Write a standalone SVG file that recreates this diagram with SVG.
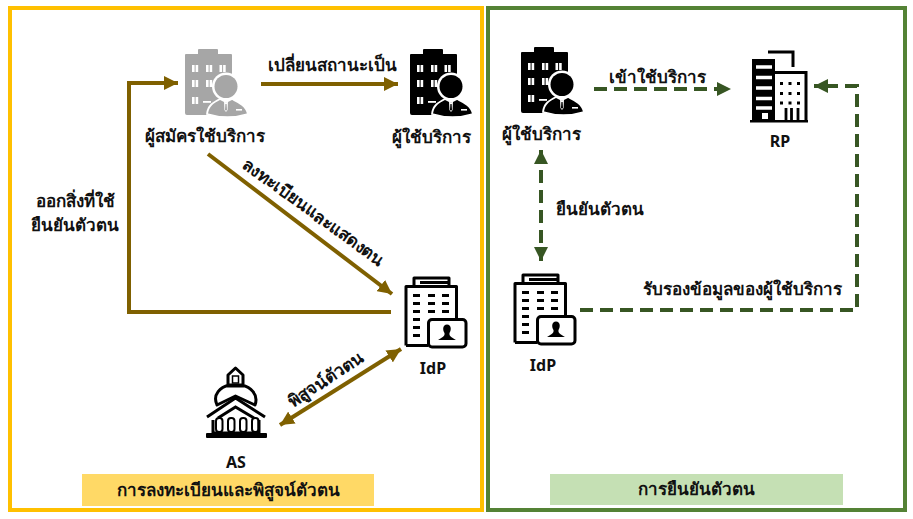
<svg xmlns="http://www.w3.org/2000/svg" width="913" height="519" viewBox="0 0 913 519">
<style>
text{font-family:"Noto Sans","Liberation Sans",sans-serif;font-size:17px;font-weight:700;fill:#111;text-anchor:middle}
text.l{font-size:16px}
.g{fill:none;stroke:#7F6000;stroke-width:4}
.d{fill:none;stroke:#375623;stroke-width:4;stroke-dasharray:13 7}
.ol{fill:none;stroke:#000;stroke-width:3;stroke-linejoin:round}
</style>
<defs>
<marker id="ag" markerUnits="userSpaceOnUse" markerWidth="14" markerHeight="14" refX="12" refY="6" orient="auto-start-reverse" viewBox="0 0 12 12"><path d="M0 0L12 6L0 12Z" fill="#7F6000"/></marker>
<marker id="ad" markerUnits="userSpaceOnUse" markerWidth="14" markerHeight="14" refX="12" refY="6" orient="auto-start-reverse" viewBox="0 0 12 12"><path d="M0 0L12 6L0 12Z" fill="#375623"/></marker>
<symbol id="person" width="65" height="68" viewBox="0 0 65 68" overflow="visible">
<path d="M13 5V1a1 1 0 0 1 1-1H32a1 1 0 0 1 1 1V5H46a1 1 0 0 1 1 1V30L27 62V66H2a2 2 0 0 1-2-2V6a1 1 0 0 1 1-1Z" fill="currentColor"/>
<g fill="#fff"><rect x="7" y="16" width="2.600" height="7"/><rect x="10.600" y="16" width="2.600" height="7"/><rect x="21" y="16" width="2.600" height="7"/><rect x="24.600" y="16" width="2.600" height="7"/><rect x="34.500" y="16" width="2.600" height="7"/><rect x="38.100" y="16" width="2.600" height="7"/><rect x="7" y="31" width="2.600" height="7"/><rect x="10.600" y="31" width="2.600" height="7"/><rect x="21" y="31" width="2.600" height="7"/><rect x="24.600" y="31" width="2.600" height="7"/><rect x="7" y="48" width="2.600" height="7"/><rect x="10.600" y="48" width="2.600" height="7"/><rect x="18" y="52" width="8" height="1.800"/></g>
<circle cx="41" cy="37.500" r="14" fill="#fff"/><circle cx="41" cy="37.500" r="11.500" fill="currentColor"/>
<path d="M22 65C23 56 29 53 35 50L41 53L47 50C53 53 61 56 63 65C50 69 35 69 22 65Z" fill="currentColor" stroke="#fff" stroke-width="1.800"/>
<path d="M39 51.500L41 54L43 51.500L42.600 61L41 63L39.400 61Z" fill="#fff"/><path d="M40.400 55H41.600L42 60.500L41 62L40 60.500Z" fill="currentColor"/><rect x="51" y="60" width="6" height="1.600" fill="#fff"/>
</symbol>
<symbol id="idp" width="63" height="72" viewBox="0 0 63 72" overflow="visible">
<path class="ol" d="M1 68.500V9.500H51.500V42M1 68.500H23M9 9.500V1H44V9.500M15 5.500H44"/>
<g fill="#000"><rect x="8" y="17" width="7" height="3"/><rect x="23" y="17" width="7" height="3"/><rect x="37" y="17" width="7" height="3"/><rect x="8" y="25" width="7" height="3"/><rect x="23" y="25" width="7" height="3"/><rect x="37" y="25" width="7" height="3"/><rect x="8" y="33" width="7" height="3"/><rect x="23" y="33" width="7" height="3"/><rect x="37" y="33" width="7" height="3"/><rect x="8" y="41" width="7" height="3"/><rect x="8" y="49" width="7" height="3"/><rect x="8" y="57" width="7" height="3"/></g>
<rect x="23.500" y="42.500" width="37.500" height="27.500" rx="3.500" fill="#fff" stroke="#000" stroke-width="3"/>
<path d="M33 63C38 60 40 59 39.500 56C37.500 53 37.500 47.500 42 47.500C46.500 47.500 46.500 53 44.500 56C44 59 46 60 51 63Z" fill="#000"/>
</symbol>
</defs>
<rect x="10" y="8" width="472" height="502" fill="#fff" stroke="#FFC000" stroke-width="4"/>
<rect x="488" y="8" width="417" height="502" fill="#fff" stroke="#548235" stroke-width="4"/>
<g id="connectors">
<path class="g" d="M391 312H129V83H178" marker-end="url(#ag)"/>
<path class="g" d="M261 84H398" marker-end="url(#ag)"/>
<path class="g" d="M208 154L392 294" marker-end="url(#ag)"/>
<path class="g" d="M280 425L401 349" marker-start="url(#ag)" marker-end="url(#ag)"/>
<path class="d" d="M594 89H731" marker-end="url(#ad)"/>
<path class="d" d="M580 310H857V86H814" marker-end="url(#ad)"/>
<path class="d" d="M541 150V261" marker-start="url(#ad)" marker-end="url(#ad)"/>
</g>
<g id="applicant" color="#A6A6A6"><use href="#person" x="185" y="49"/><text x="205" y="142">ผู้สมัครใช้บริการ</text></g>
<g id="user-left" color="#000"><use href="#person" x="410" y="49"/><text x="431" y="143">ผู้ใช้บริการ</text></g>
<g id="idp-left"><use href="#idp" x="405" y="277"/><text class="l" x="433" y="374">IdP</text></g>
<g id="as">
<path class="ol" stroke-width="3.200" d="M235.500 368L228 375V386H243V375ZM217 405C212 394 221 387 229 385H242C250 387 259 394 255 405L235.500 396Z"/>
<rect x="232.500" y="376" width="6" height="7" fill="none" stroke="#000" stroke-width="1.500"/>
<path d="M207 417L235.500 398L265 417M213 420V433H259V420M218 418L235.500 407L254 418" fill="none" stroke="#000" stroke-width="3"/>
<rect x="206" y="433" width="61" height="5" fill="#000" rx="1"/>
<g fill="none" stroke="#000" stroke-width="2"><rect x="216" y="418" width="6.500" height="14" rx="3"/><rect x="228" y="418" width="6.500" height="14" rx="3"/><rect x="240" y="418" width="6.500" height="14" rx="3"/><rect x="252" y="418" width="6.500" height="14" rx="3"/></g>
<text class="l" x="236" y="468">AS</text></g>
<g id="user-right" color="#000"><use href="#person" x="521" y="47"/><text x="541" y="140">ผู้ใช้บริการ</text></g>
<g id="rp">
<rect x="752" y="59" width="23" height="62" fill="#000"/>
<path d="M756 67H772M756 77.500H772M756 88H772M756 98.500H772M756 108H772" stroke="#fff" stroke-width="3.500"/>
<rect x="762" y="113" width="6" height="6" fill="#fff"/>
<path d="M768 52H793V67" fill="none" stroke="#000" stroke-width="3"/>
<path d="M775 72.500H806V121" fill="none" stroke="#000" stroke-width="3"/>
<path d="M780 83.500H800M780 93.500H800M780 103H800" stroke="#000" stroke-width="3" stroke-dasharray="3 5.500"/>
<path d="M786 108V121M791.500 108V121M798 108V121" stroke="#000" stroke-width="2.800"/>
<rect x="750" y="120" width="58" height="2.500" fill="#000"/>
<text class="l" x="780" y="147">RP</text></g>
<g id="idp-right"><use href="#idp" x="514" y="274"/><text class="l" x="543" y="371">IdP</text></g>
<text x="332" y="71">เปลี่ยนสถานะเป็น</text>
<text x="75" y="207">ออกสิ่งที่ใช้</text>
<text x="75" y="231">ยืนยันตัวตน</text>
<text transform="translate(310 217) rotate(36)">ลงทะเบียนและแสดงตน</text>
<text transform="translate(329 384) rotate(-33)">พิสูจน์ตัวตน</text>
<text x="657" y="83">เข้าใช้บริการ</text>
<text x="600" y="215">ยืนยันตัวตน</text>
<text x="742" y="295">รับรองข้อมูลของผู้ใช้บริการ</text>
<g id="caption-left"><rect x="82" y="474" width="292" height="32" fill="#FFD966"/><text x="228" y="496">การลงทะเบียนและพิสูจน์ตัวตน</text></g>
<g id="caption-right"><rect x="550" y="474" width="293" height="31" fill="#C5E0B4"/><text x="696" y="495">การยืนยันตัวตน</text></g>
</svg>
